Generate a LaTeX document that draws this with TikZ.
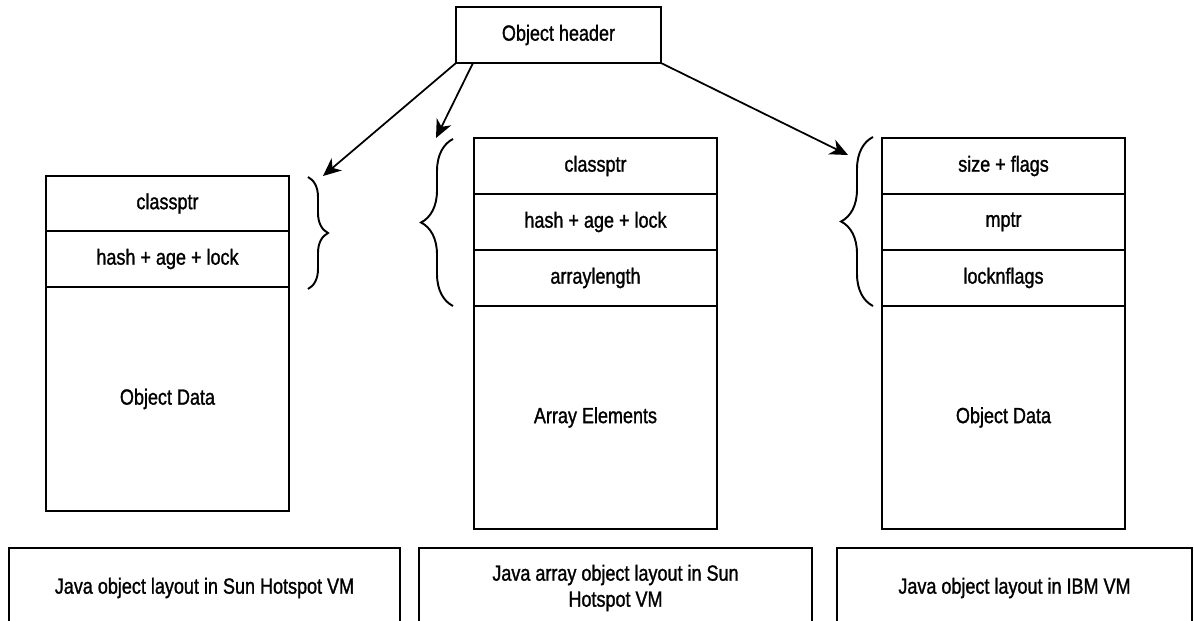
\documentclass[tikz,border=0pt]{standalone}
\usepackage{fontspec}
\setmainfont{Liberation Sans}[FakeStretch=0.82, FakeBold=1.2]
\usetikzlibrary{positioning,arrows.meta,decorations.pathreplacing}
\tikzset{
    cell/.style={draw, line width=1.2pt, outer sep=0pt, inner sep=0pt,
        minimum width=4.86cm, minimum height=1.12cm,
        font=\fontsize{12.5pt}{14.8pt}\selectfont, align=center},
    ptr/.style={line width=1pt, -{Stealth[length=3.6mm, width=3.2mm, inset=1.1mm]}},
    curly/.style={line width=1.1pt, decorate, decoration={brace, amplitude=#1}}
}
\begin{document}
\begin{tikzpicture}[x=0.02cm, y=-0.02cm]
    \clip (0, 0) rectangle (1194, 621);
    \node[cell, minimum width=4.1cm] (H) at (558.5, 35) {Object header};
    \node[cell, minimum height=1.1cm] (L_1) at (167.5, 203.5) {classptr};
    \node[cell, below=0pt of L_1] (L_2) {hash + age + lock};
    \node[cell, below=0pt of L_2, minimum height=4.48cm] (L_3) {Object Data};
    \node[cell] (M_1) at (595.5, 166) {classptr};
    \node[cell, below=0pt of M_1] (M_2) {hash + age + lock};
    \node[cell, below=0pt of M_2] (M_3) {arraylength};
    \node[cell, below=0pt of M_3, minimum height=4.46cm] (M_4) {Array Elements};
    \node[cell] (R_1) at (1003.5, 166) {size + flags};
    \node[cell, below=0pt of R_1] (R_2) {mptr};
    \node[cell, below=0pt of R_2] (R_3) {locknflags};
    \node[cell, below=0pt of R_3, minimum height=4.46cm] (R_4) {Object Data};
    \node[cell, minimum width=7.82cm, minimum height=1.6cm] (C_1) at (204.5, 588) {Java object layout in Sun Hotspot VM};
    \node[cell, minimum width=7.86cm, minimum height=1.6cm] (C_2) at (615.5, 588) {Java array object layout in Sun\\Hotspot VM};
    \node[cell, minimum width=7.1cm, minimum height=1.6cm] (C_3) at (1014.5, 588) {Java object layout in IBM VM};
    \coordinate (L_top) at (308, 177);
    \coordinate (L_bot) at (308, 289);
    \coordinate (M_top) at (453, 139);
    \coordinate (M_bot) at (453, 306);
    \coordinate (R_top) at (873, 137);
    \coordinate (R_bot) at (873, 306);
    \draw[curly=0.4cm] (L_top) -- (L_bot);
    \draw[curly=0.64cm] (M_bot) -- (M_top);
    \draw[curly=0.64cm] (R_bot) -- (R_top);
    \coordinate (A_1) at (323, 176);
    \coordinate (A_2) at (436, 138);
    \coordinate (A_3) at (848, 155);
    \draw[ptr] (H.south west) -- (A_1);
    \draw[ptr] ([xshift=0.34cm]H.south west) -- (A_2);
    \draw[ptr] (H.south east) -- (A_3);
\end{tikzpicture}
\end{document}
